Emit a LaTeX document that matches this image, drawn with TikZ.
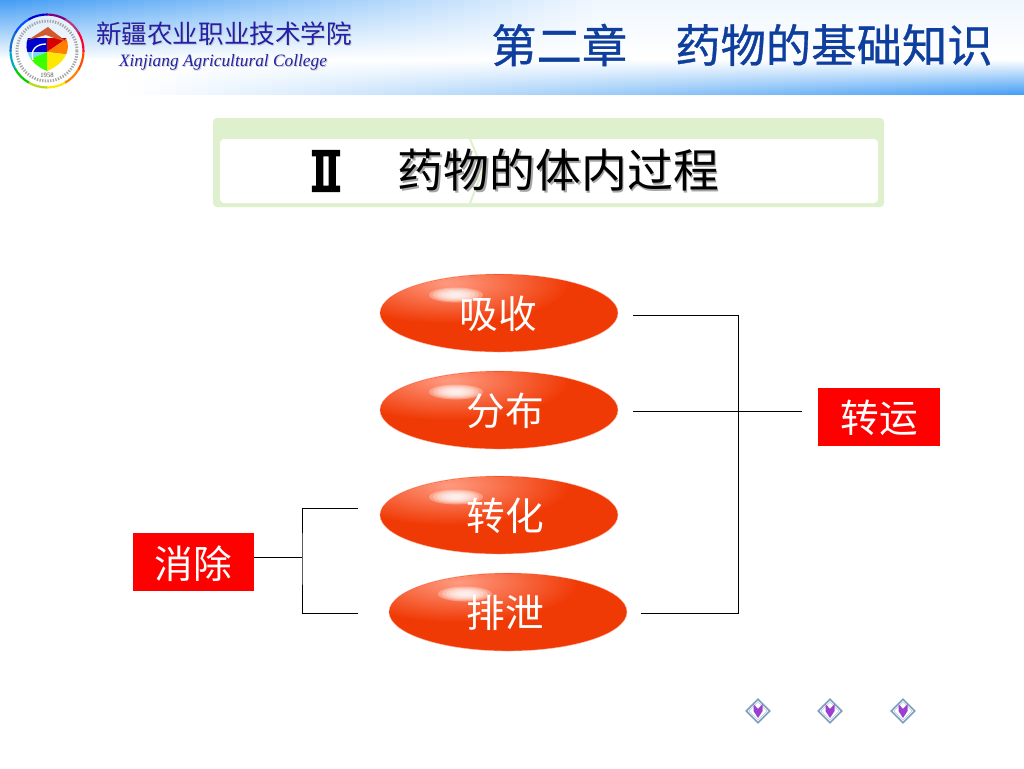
\documentclass[tikz,border=0pt]{standalone}
\usepackage{fontspec}
\usepackage{graphicx}
\setmainfont{Liberation Serif}
\newfontfamily\cjk{Noto Sans CJK SC}
\newfontfamily\cjkheavy[FakeBold=0.7]{Noto Sans CJK SC}
\newfontfamily\romanfont[FakeBold=7]{DejaVu Serif}
\usetikzlibrary{shapes.geometric,calc}
\definecolor{hdrblue}{HTML}{459EF4}
\definecolor{titleblue}{HTML}{0F3F9E}
\definecolor{schoolblue}{HTML}{2020A8}
\definecolor{bannergreen}{HTML}{DFF0CE}
\definecolor{ballred}{HTML}{F03A06}
\definecolor{ballpale}{HTML}{FF9A80}
\definecolor{boxred}{HTML}{FF0000}
\definecolor{navblue}{HTML}{7F9FC0}
\definecolor{navpurple}{HTML}{9A3FD0}
\tikzset{
  x=0.75pt,y=-0.75pt,
  wire/.style={draw=black,line width=0.6pt},
  redbox/.style={fill=boxred,text=white,minimum width=91pt,minimum height=43.5pt,inner sep=0pt},
  boxlabel/.style={text=white,inner sep=0pt,font=\cjk\fontsize{29}{29}\selectfont},
  balllabel/.style={text=white,inner sep=0pt,font=\cjk\fontsize{29}{29}\selectfont},
  ballshape/.style={ellipse,minimum width=178.5pt,minimum height=58.5pt,inner sep=0pt,fill=ballred,draw=ballpale!70!white,line width=0.3pt},
}
\newcommand{\ball}[5]{% name, x, y, label x, text
  \node[ballshape] (#1) at (#2,#3) {};
  \begin{scope}
    \clip (#2,#3) ellipse [x radius=118.5,y radius=38.5];
    \shade[inner color=ballpale,outer color=ballred] (#2-50,#3-30) ellipse [x radius=120,y radius=40];
    \foreach \k in {1,0.85,0.7,0.55,0.4,0.25}{
      \fill[white,opacity=.3] (#2-43,#3-18) ellipse [x radius=27*\k,y radius=7.5*\k];
    }
  \end{scope}
  \node[balllabel] (#1t) at (#4,#3+1) {#5};
}
\newcommand{\navicon}[2]{%
  \node[diamond,draw=navblue,fill=white,line width=1.2pt,minimum width=18pt,minimum height=18pt,inner sep=0pt] (#1) at (#2,711) {};
  \node[diamond,draw=navblue!50!white,line width=0.5pt,minimum width=14pt,minimum height=14pt,inner sep=0pt] (#1i) at (#2,711) {};
  \fill[navpurple] (#2-4.5,704) -- (#2,709) -- (#2+4.5,704) -- (#2+4.5,711) -- (#2,718) -- (#2-4.5,711) -- cycle;
}
\begin{document}
\begin{tikzpicture}
\useasboundingbox (0,0) rectangle (1024,768);
\fill[white] (0,0) rectangle (1024,768);
% header band: strips running from blue at upper left to blue at lower right
\foreach \i in {0,...,63}{
  \pgfmathsetmacro{\xa}{\i*16}
  \pgfmathsetmacro{\xb}{\i*16+17}
  \pgfmathsetmacro{\ptop}{max(8,100*(1-\xa/640))}
  \pgfmathsetmacro{\pbot}{max(0,100*((\xa-120)/904))}
  \colorlet{striptop}{hdrblue!\ptop!white}
  \colorlet{stripbot}{hdrblue!\pbot!white}
  \shade[top color=striptop,bottom color=white] (\xa,0) rectangle (\xb,60);
  \shade[top color=white,bottom color=stripbot] (\xa,59.5) rectangle (\xb,94);
}
% logo
\fill[white,opacity=.75] (47,51) circle (37);
\foreach \a/\c in {0/orange!60!red,30/orange,60/yellow!90!orange,90/yellow!70!green,120/green!80!black,150/cyan!70!green,180/cyan!50!blue,210/blue!70!cyan,240/blue!80!black,270/violet,300/magenta!70!black,330/red!80!magenta}{
  \draw[\c,line width=1.6pt] ($(47,51)+(\a:36.5)$) arc[start angle=\a,delta angle=31,radius=36.5];
}
\draw[gray!70,line width=2.2pt,dash pattern=on 1pt off 1pt] (47,51) circle (30);
\begin{scope}
\clip (47,71) .. controls (30,64) and (23,50) .. (28,38) -- (66,38) .. controls (72,50) and (64,64) .. (47,71) -- cycle;
\fill[blue!80!black] (47,52) -- (22,52) -- (22,20) -- (47,20) -- cycle;
\fill[red!85!black] (47,52) -- (47,20) -- (72,35) -- cycle;
\fill[orange] (47,52) -- (72,35) -- (72,55) -- cycle;
\fill[yellow!90!orange] (47,52) -- (72,55) -- (47,75) -- cycle;
\fill[green!70!lime] (47,52) -- (47,75) -- (22,62) -- cycle;
\fill[cyan!50!white] (47,52) -- (22,62) -- (22,52) -- cycle;
\end{scope}
\fill[brown!70!red] (28,40) -- (48,27) -- (54,32) -- (67,42) -- (54,38) -- (46,35) -- cycle;
\draw[white,line width=1pt] (33,60) .. controls (30,50) and (36,44) .. (46,44);
\node[text=black!70,inner sep=0pt,font=\fontsize{5}{5}\selectfont] (year) at (47,75) {1958};
% header text
\node[text=gray!40,inner sep=0pt,font=\cjk\fontsize{19.2}{20}\selectfont] (schoolzhs) at (225,35) {新疆农业职业技术学院};
\node[text=schoolblue,inner sep=0pt,font=\cjk\fontsize{19.2}{20}\selectfont] (schoolzh) at (224,34) {新疆农业职业技术学院};
\node[text=gray!40,inner sep=0pt,font=\itshape\fontsize{13}{15}\selectfont] (schoolens) at (224,63.5) {Xinjiang Agricultural College};
\node[text=schoolblue,inner sep=0pt,font=\itshape\fontsize{13}{15}\selectfont] (schoolen) at (223,62.5) {Xinjiang Agricultural College};
\node[text=titleblue,inner sep=0pt,anchor=west,font=\cjkheavy\fontsize{34}{34}\selectfont] (chapter) at (491,45) {第二章};
\node[text=titleblue,inner sep=0pt,anchor=west,font=\cjkheavy\fontsize{34}{34}\selectfont] (topic) at (675,45) {药物的基础知识};
% banner
\fill[bannergreen,rounded corners=3pt] (213,118) rectangle (884,207);
\fill[white,rounded corners=3pt] (220,139) rectangle (878,203);
\draw[bannergreen,line width=1.5pt] (470,139) -- (483,170) -- (470,203);
\node[text=black,inner sep=0pt,font=\romanfont\fontsize{33}{33}\selectfont] (roman) at (326,171) {\scalebox{1}[1.2]{Ⅱ}};
\node[text=gray!70,inner sep=0pt,font=\cjk\fontsize{34.4}{34}\selectfont] (headings) at (560,172) {药物的体内过程};
\node[text=black,inner sep=0pt,font=\cjk\fontsize{34.4}{34}\selectfont] (heading) at (558.5,170.5) {药物的体内过程};
% balls
\ball{xishou}{499}{313}{498}{吸收}
\ball{fenbu}{499}{410}{505}{分布}
\ball{zhuanhua}{499}{515}{505}{转化}
\ball{paixie}{508}{612}{505}{排泄}
% boxes
\node[redbox] (zhuanyun) at (879,417) {};
\node[boxlabel] (zhuanyunt) at (879.5,418) {转运};
\node[redbox] (xiaochu) at (193.5,562) {};
\node[boxlabel] (xiaochut) at (193.5,564) {消除};
% connector ends
\coordinate (a1) at ($(xishou.east)+(15,2)$);
\coordinate (a2) at ($(fenbu.east)+(15,1)$);
\coordinate (a4) at ($(paixie.east)+(14,1)$);
\coordinate (rbus) at (738,411);
\coordinate (rend) at (802,411);
\coordinate (l3) at ($(zhuanhua.west)+(-22,-7)$);
\coordinate (l4) at ($(paixie.west)+(-31,1)$);
\coordinate (lbus) at (302,557);
% connectors
\draw[wire] (a1) -| (rbus) |- (a4);
\draw[wire] (a2) -- (rend);
\draw[wire] (l3) -| (lbus) |- (l4);
\draw[wire] (xiaochu.east |- lbus) -- (lbus);
% nav
\navicon{nava}{758}
\navicon{navb}{830}
\navicon{navc}{903}
\end{tikzpicture}
\end{document}
